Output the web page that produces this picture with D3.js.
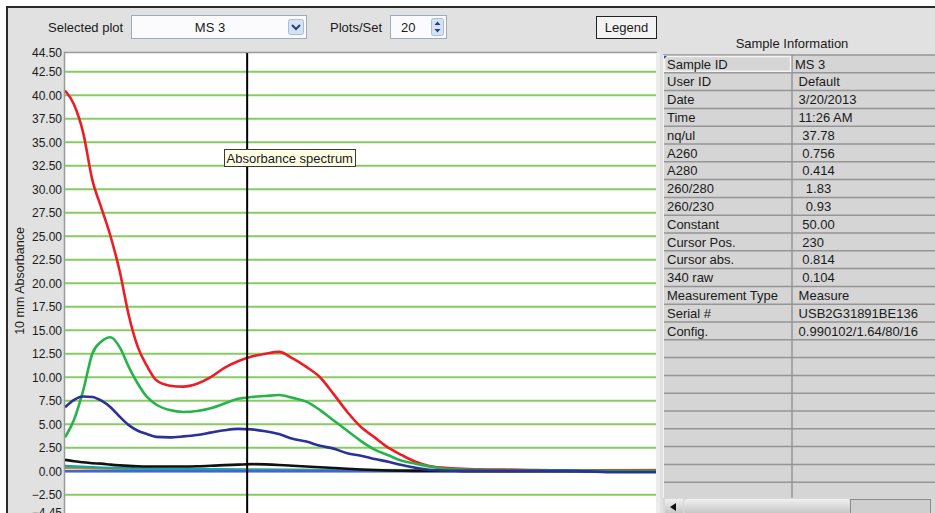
<!DOCTYPE html>
<html>
<head>
<meta charset="utf-8">
<script src="https://cdn.jsdelivr.net/npm/d3@7"></script>
<style>
body { margin: 0; background: #fff; }
svg text { font-family: "Liberation Sans", Arial, sans-serif; fill: #1a1a1a; white-space: pre; }
</style>
</head>
<body>
<script>
// wavelength grid (nm) for the main traces
const wavelengths = [220,222,224,226,228,230,232,234,236,238,240,243,246,249,252,255,258,261,264,267,270,273,276,279,282,285,288,291,294,297,300,305,310,320,330,340,350];
const redTrace   = [40.5,39.0,36.0,31.0,28.0,25.0,21.3,16.6,13.2,11.2,9.7,9.1,9.0,9.3,10.0,11.0,11.7,12.2,12.5,12.7,12.0,11.1,10.0,8.2,6.3,4.7,3.6,2.5,1.7,1.0,0.55,0.3,0.2,0.15,0.1,0.1,0.1];
const greenTrace = [3.6,5.5,8.6,12.5,13.8,14.25,13.2,11.1,9.3,7.9,7.1,6.5,6.3,6.4,6.7,7.2,7.7,7.9,8.0,8.1,7.8,7.4,6.5,5.4,4.3,3.2,2.3,1.7,1.1,0.8,0.5,0.2,0.15,0.1,0.1,0.05,0.05];
const blueTrace  = [6.8,7.6,7.95,7.9,7.5,6.8,5.8,4.9,4.3,3.95,3.65,3.6,3.7,3.85,4.1,4.35,4.5,4.45,4.25,3.95,3.45,3.15,2.7,2.4,1.9,1.65,1.3,1.0,0.65,0.35,0.15,0.05,0.05,0.05,0.05,-0.1,-0.1];
const blackTrace = [1.2,1.05,0.95,0.85,0.8,0.7,0.62,0.56,0.52,0.5,0.5,0.5,0.5,0.52,0.58,0.64,0.7,0.75,0.72,0.66,0.58,0.5,0.42,0.34,0.26,0.18,0.12,0.08,0.05,0.03,0.02,0.02,0,0,0,0,0];

// small traces that sit near zero
const minorWl     = [220,226,234,246,260,280,300,325,350];
const tealTrace   = [0.55,0.42,0.3,0.25,0.15,0.08,0.05,0.02,0.0];
const orangeTrace = [0.35,0.3,0.25,0.2,0.15,0.12,0.1,0.1,0.12];
const zeroTrace   = [0,0,0,0,0,0,0,0,0];

const yTicks = [44.5,42.5,40,37.5,35,32.5,30,27.5,25,22.5,20,17.5,15,12.5,10,7.5,5,2.5,0,-2.5,-4.45];
const cursorNm = 260;

const infoLabels = ["Sample ID","User ID","Date","Time","nq/ul","A260","A280","260/280","260/230","Constant","Cursor Pos.","Cursor abs.","340 raw","Measurement Type","Serial #","Config."];
const infoValues = ["MS 3"," Default"," 3/20/2013"," 11:26 AM","  37.78","  0.756","  0.414","   1.83","   0.93","  50.00","  230","  0.814","  0.104"," Measure"," USB2G31891BE136"," 0.990102/1.64/80/16"];

const W = 935, H = 513;
const bg = "#e1e1e1";
const svg = d3.select("body").append("svg").attr("width", W).attr("height", H);

// window panel
svg.append("rect").attr("x", 7).attr("y", 7).attr("width", W - 7).attr("height", H - 7).attr("fill", bg);
svg.append("line").attr("x1", 6).attr("x2", W).attr("y1", 7).attr("y2", 7).attr("stroke", "#2a2a2a").attr("stroke-width", 2);
svg.append("line").attr("x1", 7).attr("x2", 7).attr("y1", 6).attr("y2", H).attr("stroke", "#2a2a2a").attr("stroke-width", 2);

// toolbar
const bar = svg.append("g").style("font-size", "13px");
bar.append("text").attr("x", 48).attr("y", 32).text("Selected plot");
bar.append("rect").attr("x", 131.5).attr("y", 15.5).attr("width", 175).attr("height", 23)
    .attr("fill", "#fbfbfd").attr("stroke", "#9eaabd");
bar.append("text").attr("x", 210).attr("y", 32).attr("text-anchor", "middle").text("MS 3");
bar.append("rect").attr("x", 288.5).attr("y", 19.5).attr("width", 15).attr("height", 15)
    .attr("fill", "#d3e2f4").attr("stroke", "#a9bdd8").attr("rx", 2);
bar.append("path").attr("d", "M292,25 L296,29 L300,25").attr("fill", "none").attr("stroke", "#2b3f6b").attr("stroke-width", 2);

bar.append("text").attr("x", 330).attr("y", 32).text("Plots/Set");
bar.append("rect").attr("x", 390.5).attr("y", 15.5).attr("width", 56).attr("height", 23)
    .attr("fill", "#fbfbfd").attr("stroke", "#9eaabd");
bar.append("text").attr("x", 401).attr("y", 32).text("20");
bar.append("rect").attr("x", 431.5).attr("y", 18.5).attr("width", 12).attr("height", 17)
    .attr("fill", "#d3e2f4").attr("stroke", "#a9bdd8").attr("rx", 2);
bar.append("path").attr("d", "M434.5,25 L437.5,21.5 L440.5,25 Z M434.5,29 L437.5,32.5 L440.5,29 Z").attr("fill", "#2b3f6b");

bar.append("rect").attr("x", 596.5).attr("y", 16.5).attr("width", 60).attr("height", 22)
    .attr("fill", "#f3f3f3").attr("stroke", "#222");
bar.append("text").attr("x", 626.5).attr("y", 32).attr("text-anchor", "middle").text("Legend");
bar.append("text").attr("x", 792).attr("y", 48).attr("text-anchor", "middle").text("Sample Information");

// plot
const plotL = 65, plotR = 656, plotT = 53, plotB = 513;
const x = d3.scaleLinear().domain([220, 350]).range([plotL, plotR + 1]);
const y = d3.scaleLinear().domain([-4.45, 44.5]).range([plotB, plotT]);

svg.append("clipPath").attr("id", "clip").append("rect")
    .attr("x", plotL).attr("y", plotT).attr("width", plotR - plotL).attr("height", plotB - plotT);

svg.append("rect").attr("x", plotL).attr("y", plotT).attr("width", plotR - plotL).attr("height", plotB - plotT).attr("fill", "#fff");
svg.append("path").attr("d", `M${plotL - 0.5},${plotB} V${plotT - 0.5} H${plotR + 1}`)
    .attr("fill", "none").attr("stroke", "#9a9a9a").attr("stroke-width", 1.5);
svg.append("rect").attr("x", plotR).attr("y", plotT).attr("width", 4).attr("height", plotB - plotT).attr("fill", "#ececec");

const yAxis = svg.append("g").attr("transform", `translate(${plotL - 2},0)`)
    .call(d3.axisLeft(y).tickValues(yTicks).tickFormat(d3.format(".2f")).tickSize(0).tickPadding(1));
yAxis.select(".domain").remove();
yAxis.selectAll("text").style("font-family", "\"Liberation Sans\", Arial, sans-serif").style("font-size", "12px").attr("fill", "#1a1a1a");

svg.append("text").attr("transform", "translate(24,281) rotate(-90)").attr("text-anchor", "middle")
    .style("font-size", "12.5px").text("10 mm Absorbance");

const plot = svg.append("g").attr("clip-path", "url(#clip)");
plot.selectAll("line.grid").data(yTicks.filter(t => t > -4.45 && t < 44.5)).enter()
    .append("line").attr("class", "grid")
    .attr("x1", plotL).attr("x2", plotR)
    .attr("y1", d => y(d)).attr("y2", d => y(d))
    .attr("stroke", "#86cd61").attr("stroke-width", 2);

const traces = [
    { wl: minorWl, v: orangeTrace, c: "#c9892c" },
    { wl: minorWl, v: tealTrace, c: "#1ba3a8" },
    { wl: minorWl, v: zeroTrace, c: "#4563d6" },
    { wl: wavelengths, v: blackTrace, c: "#111111" },
    { wl: wavelengths, v: redTrace, c: "#ee1d25" },
    { wl: wavelengths, v: greenTrace, c: "#27b24a" },
    { wl: wavelengths, v: blueTrace, c: "#2b3196" }
];
const line = d3.line().x(d => x(d[0])).y(d => y(d[1])).curve(d3.curveMonotoneX);
plot.selectAll("path.trace").data(traces).enter()
    .append("path").attr("class", "trace")
    .attr("d", t => line(t.wl.map((w, i) => [w, t.v[i]])))
    .attr("fill", "none").attr("stroke", t => t.c).attr("stroke-width", 2.6);

// cursor and tooltip
plot.append("line").attr("x1", x(cursorNm)).attr("x2", x(cursorNm)).attr("y1", plotT).attr("y2", plotB)
    .attr("stroke", "#000").attr("stroke-width", 2);
svg.append("rect").attr("x", 224.5).attr("y", 149.5).attr("width", 131).attr("height", 17)
    .attr("fill", "#ffffe6").attr("stroke", "#3a3a3a");
svg.append("text").attr("x", 226.5).attr("y", 162.5).style("font-size", "13px").text("Absorbance spectrum");

// sample information table
const tL = 663, tM = 792, rowH = 17.8, tT = 55;
const nRows = 25;
const tbl = svg.append("g");
tbl.append("rect").attr("x", tL).attr("y", tT).attr("width", W - tL).attr("height", H - tT).attr("fill", "#d5d5d5");
tbl.selectAll("line.row").data(d3.range(nRows + 1)).enter()
    .append("line").attr("class", "row")
    .attr("x1", tL).attr("x2", W)
    .attr("y1", d => tT + d * rowH).attr("y2", d => tT + d * rowH)
    .attr("stroke", "#959595").attr("stroke-width", 1.5);
tbl.append("line").attr("x1", tM).attr("x2", tM).attr("y1", tT).attr("y2", H).attr("stroke", "#959595").attr("stroke-width", 1.5);
tbl.append("line").attr("x1", tL + 0.5).attr("x2", tL + 0.5).attr("y1", tT).attr("y2", H).attr("stroke", "#f2f2f2").attr("stroke-width", 1);
tbl.append("rect").attr("x", tL + 1.5).attr("y", tT + 1.5).attr("width", tM - tL - 3).attr("height", rowH - 3)
    .attr("fill", "none").attr("stroke", "#f4f4f4").attr("stroke-width", 1.5);
tbl.append("path").attr("d", `M${tL + 1},${tT + 1} h3 l-3,3 z`).attr("fill", "#3050c0");

tbl.selectAll("text.lab").data(infoLabels).enter()
    .append("text").attr("class", "lab")
    .attr("x", tL + 4).attr("y", (d, i) => tT + i * rowH + 13.5)
    .style("font-size", "13px").text(d => d);
tbl.selectAll("text.val").data(infoValues).enter()
    .append("text").attr("class", "val")
    .attr("x", tM + 3).attr("y", (d, i) => tT + i * rowH + 13.5)
    .style("font-size", "13px").text(d => d);

// horizontal scrollbar
const sbY = 498;
const grad = svg.append("defs").append("linearGradient").attr("id", "sb").attr("x1", 0).attr("x2", 0).attr("y1", 0).attr("y2", 1);
grad.append("stop").attr("offset", 0).attr("stop-color", "#f0f0f0");
grad.append("stop").attr("offset", 1).attr("stop-color", "#c4c4c4");
tbl.append("rect").attr("x", tL).attr("y", sbY).attr("width", W - tL).attr("height", H - sbY).attr("fill", "#d8d8d8");
tbl.append("rect").attr("x", tL + 2).attr("y", sbY + 1).attr("width", 18).attr("height", H - sbY).attr("fill", "url(#sb)");
tbl.append("path").attr("d", `M${tL + 7},${sbY + 9} l6,-4 v8 z`).attr("fill", "#111");
tbl.append("rect").attr("x", tL + 21).attr("y", sbY + 1).attr("width", 166).attr("height", H - sbY).attr("rx", 4).attr("fill", "url(#sb)");
tbl.append("rect").attr("x", 850.5).attr("y", sbY + 1.5).attr("width", 80).attr("height", H - sbY).attr("fill", "#cfcfcf").attr("stroke", "#8a8a8a");
</script>
</body>
</html>
